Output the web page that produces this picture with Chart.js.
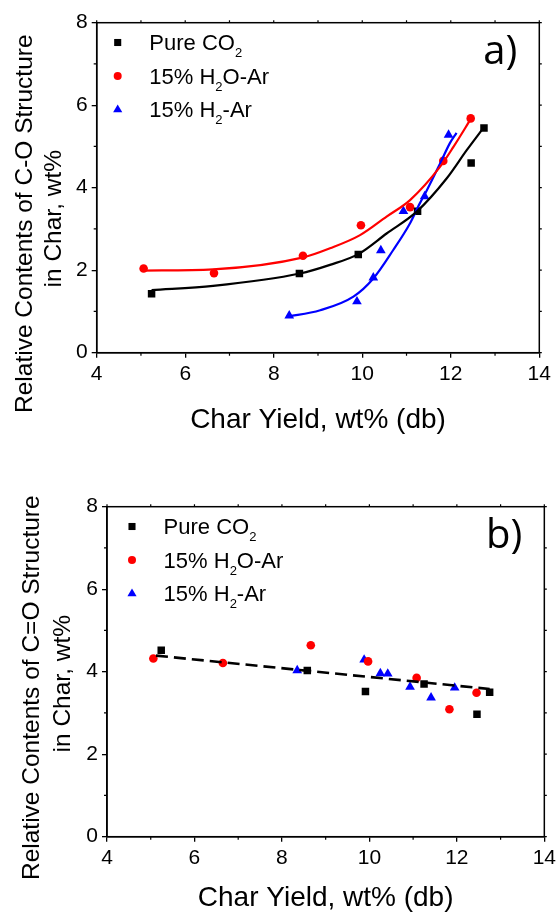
<!DOCTYPE html>
<html>
<head>
<meta charset="utf-8">
<script src="https://cdn.jsdelivr.net/npm/chart.js@4.4.1/dist/chart.umd.min.js"></script>
<style>
  html, body { margin: 0; padding: 0; background: #fff; }
  canvas { display: block; }
</style>
</head>
<body>
<canvas id="chartA" width="560" height="456"></canvas>
<canvas id="chartB" width="560" height="457"></canvas>
<script>
// char yield (wt%, db) of each sample, shared by both panels
const yieldCO2 = [5.24, 8.58, 9.91, 11.25, 12.46, 12.75];
const yieldH2O = [5.06, 6.65, 8.66, 9.97, 11.08, 11.83, 12.45];
const yieldH2 = [8.35, 9.88, 10.25, 10.42, 10.93, 11.41, 11.95];

// C-O structure content, wt%
const coCO2 = [1.43, 1.92, 2.38, 3.43, 4.60, 5.45];
const coH2O = [2.04, 1.93, 2.35, 3.09, 3.53, 4.65, 5.68];
const coH2 = [0.90, 1.24, 1.82, 2.48, 3.43, 3.79, 5.28];

// C=O structure content, wt%
const cdoCO2 = [4.52, 4.03, 3.52, 3.70, 2.97, 3.50];
const cdoH2O = [4.32, 4.21, 4.64, 4.25, 3.85, 3.09, 3.49];
const cdoH2 = [4.03, 4.29, 3.96, 3.95, 3.63, 3.37, 3.61];

// fitted curves for C-O
const fitCO2X = [5.24, 6.63, 8.59, 9.27, 9.91, 10.55, 11.23, 11.91, 12.36, 12.73];
const fitCO2Y = [1.52, 1.62, 1.92, 2.13, 2.39, 2.89, 3.42, 4.23, 4.91, 5.44];
const fitH2OX = [5.05, 6.63, 8.67, 9.27, 9.95, 10.55, 11.08, 11.76, 12.06, 12.46];
const fitH2OY = [1.99, 2.02, 2.31, 2.53, 2.85, 3.30, 3.70, 4.51, 4.99, 5.68];
const fitH2X = [8.29, 9.05, 9.80, 10.25, 10.70, 11.08, 11.30, 11.46, 11.76, 11.98, 12.13];
const fitH2Y = [0.87, 1.03, 1.36, 1.80, 2.49, 3.14, 3.62, 3.94, 4.59, 5.08, 5.33];

// linear trend for C=O
const trendX = [5.12, 12.75];
const trendY = [4.39, 3.58];

// legend entries: [text, isSubscript]
const seriesNames = [
  [['Pure CO', false], ['2', true]],
  [['15% H', false], ['2', true], ['O-Ar', false]],
  [['15% H', false], ['2', true], ['-Ar', false]]
];
const seriesColors = ['#000000', '#ff0000', '#0000ff'];
const seriesShapes = [
  { pointStyle: 'rect', radius: 5.3 },
  { pointStyle: 'circle', radius: 4.3 },
  { pointStyle: 'triangle', radius: 5.6 }
];

const FONT = '"Liberation Sans", Arial, sans-serif';

const xyPairs = (xs, ys) => xs.map((x, i) => ({ x: x, y: ys[i] }));

function markerSet(xs, ys, idx) {
  return {
    data: xyPairs(xs, ys),
    showLine: false,
    pointStyle: seriesShapes[idx].pointStyle,
    pointRadius: seriesShapes[idx].radius,
    pointBackgroundColor: seriesColors[idx],
    pointBorderColor: seriesColors[idx],
    pointBorderWidth: 0,
    order: 2
  };
}

function curveSet(xs, ys, color, dash) {
  return {
    data: xyPairs(xs, ys),
    showLine: true,
    pointRadius: 0,
    borderColor: color,
    borderWidth: dash ? 2.6 : 2.2,
    borderDash: dash || [],
    cubicInterpolationMode: 'monotone',
    order: 1
  };
}

// frame, minor ticks, titles, legend and panel letter
const panelDecor = {
  id: 'panelDecor',
  afterDraw(chart, args, opts) {
    const { ctx, chartArea: a } = chart;
    const xs = chart.scales.x, ys = chart.scales.y;
    ctx.save();
    ctx.strokeStyle = '#000';
    ctx.lineWidth = 1.5;
    ctx.strokeRect(a.left, a.top, a.right - a.left, a.bottom - a.top);

    ctx.lineWidth = 1.2;
    ctx.beginPath();
    for (let v = 4; v <= 14; v++) {
      const px = xs.getPixelForValue(v);
      if (v % 2) {
        ctx.moveTo(px, a.bottom);
        ctx.lineTo(px, a.bottom + 3);
      }
      ctx.moveTo(px, a.top);
      ctx.lineTo(px, a.top - 2.5);
    }
    for (let v = 0; v <= 8; v++) {
      const py = ys.getPixelForValue(v);
      if (v % 2) {
        ctx.moveTo(a.left, py);
        ctx.lineTo(a.left - 3, py);
      }
      ctx.moveTo(a.right, py);
      ctx.lineTo(a.right + 2.5, py);
    }
    ctx.stroke();

    ctx.fillStyle = '#000';
    // y title, two rotated lines
    ctx.font = '24.5px ' + FONT;
    ctx.textAlign = 'center';
    ctx.textBaseline = 'alphabetic';
    opts.yTitle.forEach((line, i) => {
      ctx.save();
      ctx.translate(a.left + opts.yTitleX[i], a.top + opts.yTitleY[i]);
      ctx.rotate(-Math.PI / 2);
      ctx.fillText(line, 0, 0);
      ctx.restore();
    });

    // x title
    ctx.font = '28px ' + FONT;
    ctx.fillText(opts.xTitle, (a.left + a.right) / 2, a.bottom + opts.xTitleGap);

    // panel letter
    ctx.font = '40px "Open Sans", sans-serif';
    ctx.textAlign = 'right';
    ctx.fillText(opts.letter, a.right - 22, a.top + 41.5);

    // legend
    ctx.textAlign = 'left';
    seriesNames.forEach((parts, i) => {
      const base = a.top + opts.legendTop + i * 33.6;
      ctx.fillStyle = seriesColors[i];
      Chart.helpers.drawPoint(ctx, {
        pointStyle: seriesShapes[i].pointStyle,
        radius: seriesShapes[i].radius - 0.3,
        rotation: 0,
        borderWidth: 0
      }, a.left + opts.legendLeft, base - 7.5);
      ctx.fillStyle = '#000';
      let tx = a.left + opts.legendLeft + 31.6;
      parts.forEach(([txt, sub]) => {
        ctx.font = (sub ? '13px ' : '22px ') + FONT;
        ctx.fillText(txt, tx, sub ? base + 7 : base);
        tx += ctx.measureText(txt).width;
      });
    });
    ctx.restore();
  }
};

function axisOptions(height, width) {
  const tickFont = { family: FONT, size: 21 };
  const grid = { drawOnChartArea: false, drawTicks: true, tickLength: 5, color: '#000', lineWidth: 1.3 };
  const border = { display: true, color: '#000', width: 1.5 };
  return {
    x: {
      type: 'linear', min: 4, max: 14,
      ticks: { stepSize: 2, font: tickFont, color: '#000', padding: 4 },
      grid: grid, border: border,
      afterFit(s) { s.height = height; }
    },
    y: {
      type: 'linear', min: 0, max: 8,
      ticks: { stepSize: 2, font: tickFont, color: '#000', padding: 4 },
      grid: grid, border: border,
      afterFit(s) { s.width = width; }
    }
  };
}

function buildChart(id, datasets, pad, xHeight, yWidth, decor) {
  return new Chart(document.getElementById(id), {
    type: 'scatter',
    data: { datasets: datasets },
    options: {
      responsive: false,
      animation: false,
      devicePixelRatio: 1,
      layout: { padding: pad },
      scales: axisOptions(xHeight, yWidth),
      plugins: {
        legend: { display: false },
        tooltip: { enabled: false },
        panelDecor: decor
      }
    },
    plugins: [panelDecor]
  });
}

buildChart('chartA', [
  markerSet(yieldCO2, coCO2, 0),
  markerSet(yieldH2O, coH2O, 1),
  markerSet(yieldH2, coH2, 2),
  curveSet(fitCO2X, fitCO2Y, seriesColors[0]),
  curveSet(fitH2OX, fitH2OY, seriesColors[1]),
  curveSet(fitH2X, fitH2Y, seriesColors[2])
], { left: 0, top: 22.7, right: 20.7, bottom: 0 }, 103.3, 96.7, {
  letter: 'a)',
  xTitle: 'Char Yield, wt% (db)',
  xTitleGap: 75.6,
  yTitle: ['Relative Contents of C-O Structure', 'in Char, wt%'],
  yTitleX: [-65, -36],
  yTitleY: [201, 196],
  legendLeft: 21,
  legendTop: 27.3
});

buildChart('chartB', [
  markerSet(yieldCO2, cdoCO2, 0),
  markerSet(yieldH2O, cdoH2O, 1),
  markerSet(yieldH2, cdoH2, 2),
  curveSet(trendX, trendY, '#000', [12, 6])
], { left: 0, top: 50.7, right: 13.3, bottom: 0 }, 76.3, 107, {
  letter: 'b)',
  xTitle: 'Char Yield, wt% (db)',
  xTitleGap: 69,
  yTitle: ['Relative Contents of C=O Structure', 'in Char, wt%'],
  yTitleX: [-67.7, -37.5],
  yTitleY: [181, 177],
  legendLeft: 25,
  legendTop: 27.3
});
</script>
</body>
</html>
